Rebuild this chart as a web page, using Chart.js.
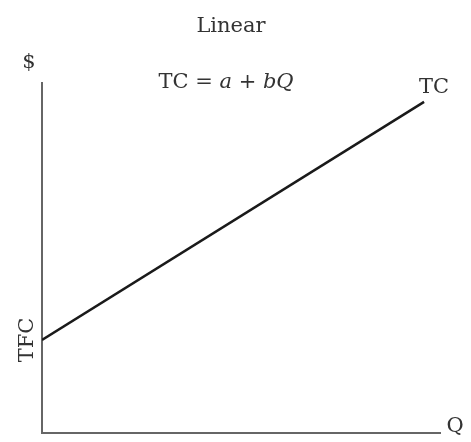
<!DOCTYPE html>
<html>
<head>
<meta charset="utf-8">
<script src="https://cdn.jsdelivr.net/npm/chart.js@4"></script>
<style>
html,body{margin:0;padding:0;background:#fff;}
#wrap{width:471px;height:442px;}
</style>
</head>
<body>
<div id="wrap"><canvas id="c" width="471" height="442"></canvas></div>
<script>
// Data (axis units 0..100)
const quantities = [0, 96];
const totalCost = [26.6, 94.6];
const chartTitle = "Linear";
const equation = [["TC = ", false], ["a", true], [" + ", false], ["bQ", true]];
const yAxisLabel = "$";
const xAxisLabel = "Q";
const lineLabel = "TC";
const interceptLabel = "TFC";

const points = quantities.map((q, i) => ({x: q, y: totalCost[i]}));
const FONT = '"DejaVu Serif", serif';
const SIZE = 21;

const textPlugin = {
  id: 'texts',
  afterDraw(chart) {
    const ctx = chart.ctx;
    const xs = chart.scales.x, ys = chart.scales.y;
    const ca = chart.chartArea;
    ctx.save();
    ctx.fillStyle = '#333';
    ctx.textAlign = 'center';
    ctx.textBaseline = 'alphabetic';
    ctx.font = SIZE + 'px ' + FONT;
    ctx.fillText(chartTitle, 231, 32);
    ctx.fillText(yAxisLabel, 29, 68);
    ctx.fillText(xAxisLabel, ca.right + 15, ca.bottom - 1);
    const last = points[points.length - 1];
    ctx.fillText(lineLabel, xs.getPixelForValue(last.x) + 10, ys.getPixelForValue(last.y) - 9);
    // equation with italics
    let total = 0;
    equation.forEach(p => { ctx.font = (p[1] ? 'italic ' : '') + SIZE + 'px ' + FONT; total += ctx.measureText(p[0]).width; });
    let x = 226 - total / 2;
    ctx.textAlign = 'left';
    equation.forEach(p => { ctx.font = (p[1] ? 'italic ' : '') + SIZE + 'px ' + FONT; ctx.fillText(p[0], x, 88); x += ctx.measureText(p[0]).width; });
    // TFC rotated
    const first = points[0];
    ctx.translate(33, ys.getPixelForValue(first.y));
    ctx.rotate(-Math.PI / 2);
    ctx.textAlign = 'center';
    ctx.font = SIZE + 'px ' + FONT;
    ctx.fillText(interceptLabel, 0, 0);
    ctx.restore();
  }
};

new Chart(document.getElementById('c'), {
  type: 'scatter',
  data: {
    datasets: [{
      data: points,
      showLine: true,
      borderColor: '#1a1a1a',
      borderWidth: 2.5,
      pointRadius: 0,
      fill: false
    }]
  },
  options: {
    responsive: false,
    animation: false,
    layout: {padding: {left: 42, right: 31, top: 83, bottom: 9}},
    plugins: {legend: {display: false}, tooltip: {enabled: false}, title: {display: false}},
    scales: {
      x: {
        type: 'linear', min: 0, max: 100,
        ticks: {display: false},
        grid: {display: false, drawTicks: false},
        border: {display: true, color: '#666', width: 2}
      },
      y: {
        type: 'linear', min: 0, max: 100,
        ticks: {display: false},
        grid: {display: false, drawTicks: false},
        border: {display: true, color: '#666', width: 2}
      }
    }
  },
  plugins: [textPlugin]
});
</script>
</body>
</html>
